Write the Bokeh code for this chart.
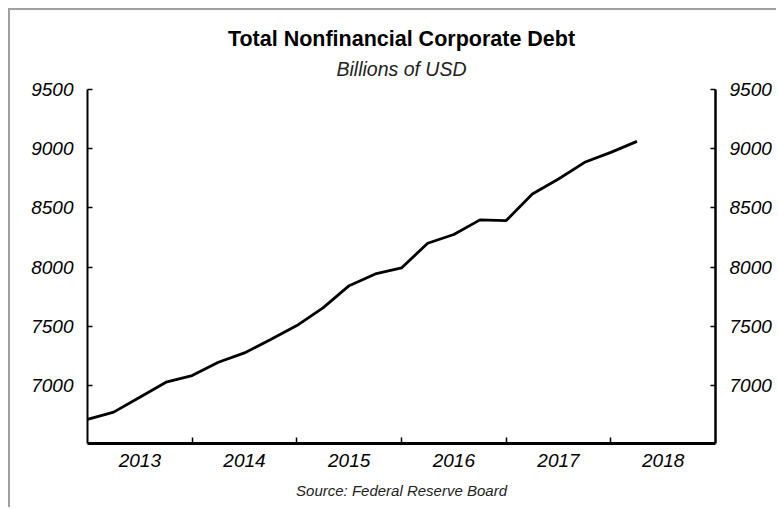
from bokeh.plotting import figure
from bokeh.models import Range1d, LinearAxis, FixedTicker, Title, CustomJSTickFormatter
from bokeh.embed import file_html
from bokeh.resources import INLINE

# quarterly data, x as decimal years
quarters = [2013.0, 2013.25, 2013.5, 2013.75, 2014.0, 2014.25, 2014.5, 2014.75,
            2015.0, 2015.25, 2015.5, 2015.75, 2016.0, 2016.25, 2016.5, 2016.75,
            2017.0, 2017.25, 2017.5, 2017.75, 2018.0, 2018.25]
debt = [6713, 6775, 6900, 7028, 7084, 7196, 7275, 7388, 7506, 7655, 7843, 7942,
        7993, 8201, 8275, 8399, 8393, 8618, 8744, 8885, 8969, 9062]
year_labels = ["2013", "2014", "2015", "2016", "2017", "2018"]
year_label_pos = [2013.5, 2014.5, 2015.5, 2016.5, 2017.5, 2018.5]
year_bounds = [2014, 2015, 2016, 2017, 2018]
y_ticks = [7000, 7500, 8000, 8500, 9000, 9500]
source_text = "Source: Federal Reserve Board"

FONT = "Liberation Sans"

p = figure(width=768, height=499, output_backend="svg", toolbar_location=None,
           x_range=Range1d(2013, 2019), y_range=Range1d(6510, 9500),
           min_border_left=77, min_border_right=63, min_border_top=79,
           min_border_bottom=66, y_axis_location=None, x_axis_location=None)
p.styles = {"margin-left": "8px", "margin-top": "8px",
            "border-top": "2px solid #a0a0a0", "border-left": "2px solid #a0a0a0"}
p.outline_line_color = None
p.xgrid.visible = False
p.ygrid.visible = False
p.background_fill_color = "white"
p.border_fill_color = "white"

p.line(quarters, debt, line_color="black", line_width=2.8)

def yaxis(line_width):
    ax = LinearAxis(ticker=FixedTicker(ticks=y_ticks))
    ax.axis_line_width = line_width
    ax.axis_line_color = "black"
    ax.major_tick_in = 5
    ax.major_tick_out = 0
    ax.major_tick_line_width = 1.5
    ax.minor_tick_line_color = None
    ax.major_label_standoff = 14
    ax.major_label_text_font = FONT
    ax.major_label_text_font_style = "italic"
    ax.major_label_text_font_size = "19px"
    ax.major_label_text_color = "black"
    return ax

p.add_layout(yaxis(2), "left")
p.add_layout(yaxis(2.5), "right")

labels_js = "const pos = %s; const lab = %s; const i = pos.indexOf(tick); return i >= 0 ? lab[i] : '';" % (
    str(year_label_pos), str(year_labels).replace("'", '"'))
xax = LinearAxis(ticker=FixedTicker(ticks=year_label_pos, minor_ticks=year_bounds),
                 formatter=CustomJSTickFormatter(code=labels_js))
xax.axis_line_width = 3
xax.axis_line_color = "black"
xax.major_tick_line_color = None
xax.major_tick_in = 0
xax.major_tick_out = 0
xax.minor_tick_in = 6
xax.minor_tick_out = 0
xax.minor_tick_line_width = 1.5
xax.minor_tick_line_color = "black"
xax.major_label_standoff = 10
xax.major_label_text_font = FONT
xax.major_label_text_font_style = "italic"
xax.major_label_text_font_size = "19px"
xax.major_label_text_color = "black"
p.add_layout(xax, "below")

p.add_layout(Title(text=source_text, align="center", text_font=FONT,
                   text_font_style="italic", text_font_size="15px", text_color="#222222",
                   standoff=21), "below")

p.add_layout(Title(text="Billions of USD", align="center", text_font=FONT,
                   text_font_style="italic", text_font_size="19.5px", text_color="#222222",
                   standoff=20), "above")
p.add_layout(Title(text="Total Nonfinancial Corporate Debt", align="center", text_font=FONT,
                   text_font_style="bold", text_font_size="21.5px", text_color="black",
                   standoff=-10), "above")

open("out.html", "w").write(file_html(p, INLINE))
